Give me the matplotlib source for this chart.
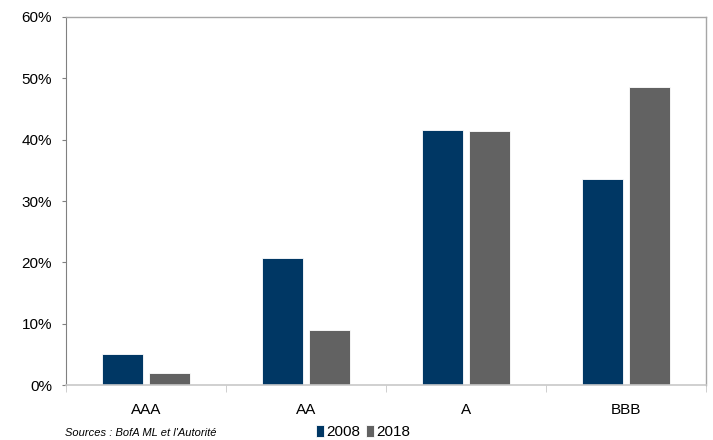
import numpy as np
import matplotlib
matplotlib.use("Agg")
import matplotlib.pyplot as plt
from matplotlib.ticker import PercentFormatter

# ── Data ────────────────────────────────────────────────────────────────
ratings   = ["AAA", "AA", "A", "BBB"]
share2008 = [5.0, 20.7, 41.6, 33.6]
share2018 = [2.0, 9.0, 41.4, 48.6]
y_ticks   = [0, 10, 20, 30, 40, 50, 60]

NAVY = "#003764"
GREY = "#626262"

plt.rcParams["font.family"] = ["Liberation Sans", "DejaVu Sans"]

fig = plt.figure(figsize=(7.13, 4.40), dpi=100)
ax = fig.add_axes([66 / 713, 1 - 385 / 440, 640 / 713, 368 / 440])

x = np.arange(len(ratings))
w = 0.256
ax.bar(x - 0.144, share2008, w, color=NAVY, edgecolor="white", linewidth=0.6,
       label="2008", zorder=2)
ax.bar(x + 0.144, share2018, w, color=GREY, edgecolor="white", linewidth=0.6,
       label="2018", zorder=2)

ax.set_xlim(-0.5, len(ratings) - 0.5)
ax.set_ylim(0, 60)
ax.set_yticks(y_ticks)
ax.yaxis.set_major_formatter(PercentFormatter(decimals=0))
ax.set_xticks(x)
ax.set_xticklabels(ratings)
ax.set_xticks(np.arange(len(ratings) + 1) - 0.5, minor=True)

ax.tick_params(axis="x", which="major", length=0, labelsize=11, pad=13)
ax.tick_params(axis="x", which="minor", length=5, color="#c8c8c8", direction="out")
ax.tick_params(axis="y", length=3, color="#808080", labelsize=11, pad=7)

for side in ["top", "right"]:
    ax.spines[side].set_color("#a6a6a6")
    ax.spines[side].set_linewidth(1.0)
ax.spines["left"].set_color("#808080")
ax.spines["bottom"].set_color("#c8c8c8")
ax.spines["bottom"].set_linewidth(1.2)
ax.spines["bottom"].set_zorder(3)

fig.legend(loc="center", bbox_to_anchor=(363 / 713, 1 - 432 / 440), ncol=2,
           frameon=False, fontsize=11, handlelength=0.55, handleheight=0.85,
           handletextpad=0.1, columnspacing=0.4, borderpad=0)

fig.text(65 / 713, 1 - 433 / 440, "Sources : BofA ML et l'Autorité",
         fontsize=8, style="italic", va="center", ha="left")

fig.savefig("out.png", dpi=100)
